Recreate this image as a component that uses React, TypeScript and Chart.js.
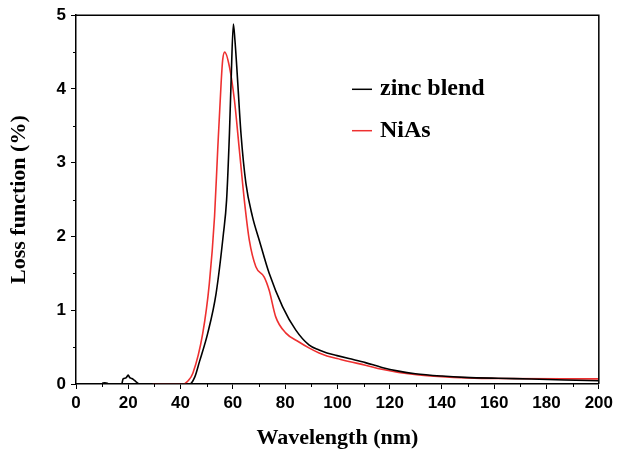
import React, { useEffect, useRef } from "react";
import { Chart, registerables } from "chart.js";

Chart.register(...registerables);

const zincX = [10, 11, 12, 12.5, 17.5, 18, 19, 19.5, 20, 20.5, 21, 22, 23, 24.4, 30, 40, 43.5, 45.5, 47.2, 50.4, 53.6, 56.4, 57.6, 58.7, 59.3, 60.2, 60.8, 61.5, 63.1, 65.0, 67.5, 70.1, 73.9, 79.0, 84.1, 89.1, 93, 96, 99.9, 104.4, 110.7, 117, 123.4, 129.8, 140, 148.8, 161.5, 174.2, 186.9, 200];
const zincY = [0.01, 0.015, 0.01, 0, 0, 0.07, 0.08, 0.1, 0.12, 0.09, 0.08, 0.06, 0.03, 0, 0, 0, 0, 0.1, 0.3, 0.69, 1.23, 2.04, 2.49, 3.4, 4.07, 4.88, 4.66, 4.3, 3.4, 2.72, 2.27, 1.95, 1.5, 1.05, 0.73, 0.53, 0.46, 0.42, 0.385, 0.345, 0.29, 0.225, 0.175, 0.14, 0.108, 0.09, 0.077, 0.068, 0.054, 0.045];

const niasX = [29.3, 35, 40.9, 42.8, 44.7, 48.5, 51.0, 53.0, 54.2, 55.5, 56.1, 56.9, 58.7, 60.6, 62.5, 64.4, 66.3, 68.8, 72.0, 73.9, 76.4, 80.3, 85.3, 89.1, 93, 96, 99.9, 104.4, 110.7, 117, 123.4, 140, 161.5, 186.9, 200];
const niasY = [0, 0, 0, 0.04, 0.145, 0.69, 1.36, 2.27, 3.17, 4.07, 4.39, 4.5, 4.3, 3.85, 3.17, 2.49, 1.95, 1.59, 1.45, 1.27, 0.91, 0.69, 0.57, 0.49, 0.42, 0.38, 0.345, 0.305, 0.255, 0.2, 0.158, 0.1, 0.074, 0.07, 0.07];

const xTicks = [0, 20, 40, 60, 80, 100, 120, 140, 160, 180, 200];
const yTicks = [0, 1, 2, 3, 4, 5];
const seriesNames = ["zinc blend", "NiAs"];
const seriesColors = ["#000000", "#ee3030"];

const tickFont = { family: "'Liberation Sans', Arial, sans-serif", size: 17, weight: "bold" as const };
const titleFont = { family: "'Liberation Serif', 'Times New Roman', serif", size: 22, weight: "bold" as const };

const framePlugin = {
  id: "frameAndExtras",
  afterDraw(chart: any) {
    const ctx = chart.ctx;
    const { left, right, top, bottom } = chart.chartArea;
    const xs = chart.scales.x;
    const ys = chart.scales.y;
    ctx.save();
    ctx.strokeStyle = "#000";
    ctx.lineWidth = 1.5;
    ctx.beginPath();
    ctx.moveTo(left, top);
    ctx.lineTo(right, top);
    ctx.lineTo(right, bottom);
    ctx.stroke();
    // minor ticks
    ctx.lineWidth = 1;
    ctx.beginPath();
    for (let i = 0; i < xTicks.length - 1; i++) {
      const v = (xTicks[i] + xTicks[i + 1]) / 2;
      const px = Math.round(xs.getPixelForValue(v)) + 0.5;
      ctx.moveTo(px, bottom);
      ctx.lineTo(px, bottom + 3);
    }
    for (let i = 0; i < yTicks.length - 1; i++) {
      const v = (yTicks[i] + yTicks[i + 1]) / 2;
      const py = Math.round(ys.getPixelForValue(v)) + 0.5;
      ctx.moveTo(left, py);
      ctx.lineTo(left - 3, py);
    }
    ctx.stroke();
    // legend
    const ds = chart.data.datasets;
    ds.forEach((d: any, i: number) => {
      const y = 89.3 + i * 41.4;
      ctx.strokeStyle = d.borderColor;
      ctx.lineWidth = 1.5;
      ctx.beginPath();
      ctx.moveTo(352, y);
      ctx.lineTo(372, y);
      ctx.stroke();
      ctx.fillStyle = "#000";
      ctx.font = "bold 24px 'Liberation Serif', 'Times New Roman', serif";
      ctx.textBaseline = "alphabetic";
      ctx.textAlign = "left";
      ctx.fillText(d.label, 380, y + 6);
    });
    ctx.restore();
  },
};

export default function App() {
  const ref = useRef<HTMLCanvasElement | null>(null);
  useEffect(() => {
    if (!ref.current) return;
    const chart = new Chart(ref.current, {
      type: "line",
      data: {
        datasets: [
          {
            label: seriesNames[0],
            data: zincX.map((x, i) => ({ x, y: zincY[i] })),
            borderColor: seriesColors[0],
            borderWidth: 1.6,
            pointRadius: 0,
            cubicInterpolationMode: "monotone",
            fill: false,
          },
          {
            label: seriesNames[1],
            data: niasX.map((x, i) => ({ x, y: niasY[i] })),
            borderColor: seriesColors[1],
            borderWidth: 1.6,
            pointRadius: 0,
            cubicInterpolationMode: "monotone",
            fill: false,
          },
        ],
      },
      options: {
        responsive: false,
        animation: false,
        layout: { padding: { top: 15, right: 16, left: 0, bottom: 0 } },
        plugins: { legend: { display: false }, tooltip: { enabled: false } },
        scales: {
          x: {
            type: "linear",
            min: 0,
            max: 200,
            afterFit: (s: any) => { s.height = 68; },
            afterBuildTicks: (s: any) => { s.ticks = xTicks.map((v) => ({ value: v })); },
            ticks: { font: tickFont, color: "#000", padding: 4, maxRotation: 0 },
            grid: { drawOnChartArea: false, tickLength: 5, color: "#000", tickWidth: 1 },
            border: { color: "#000", width: 1.5 },
            title: { display: true, text: "Wavelength (nm)", font: titleFont, color: "#000", padding: { top: 0, bottom: 0 } },
          },
          y: {
            type: "linear",
            min: 0,
            max: 5,
            afterFit: (s: any) => { s.width = 76; },
            afterBuildTicks: (s: any) => { s.ticks = yTicks.map((v) => ({ value: v })); },
            ticks: { font: tickFont, color: "#000", padding: 5 },
            grid: { drawOnChartArea: false, tickLength: 5, color: "#000", tickWidth: 1 },
            border: { color: "#000", width: 1.5 },
            title: { display: true, text: "Loss function (%)", font: titleFont, color: "#000", padding: { top: 6, bottom: 0 } },
          },
        },
      },
      plugins: [framePlugin],
    } as any);
    return () => chart.destroy();
  }, []);
  return (
    <div style={{ position: "absolute", left: 0, top: 0, width: 617, height: 452, background: "#fff" }}>
      <canvas ref={ref} width={617} height={452} />
    </div>
  );
}
